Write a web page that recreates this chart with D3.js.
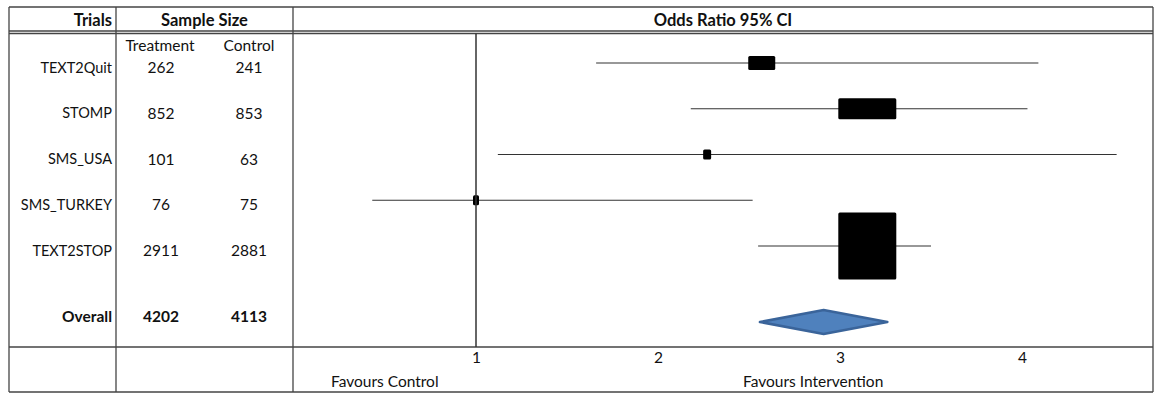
<!DOCTYPE html>
<html>
<head>
<meta charset="utf-8">
<script src="https://cdn.jsdelivr.net/npm/d3@7"></script>
<style>
  body { margin: 0; background: #fff; }
  svg text { font-family: Lato, "Noto Sans", sans-serif; fill: #111; }
</style>
</head>
<body>
<div id="chart"></div>
<script>
"use strict";

// == DATA ==
var trials = ["TEXT2Quit", "STOMP", "SMS_USA", "SMS_TURKEY", "TEXT2STOP"];
var treatmentN = [262, 852, 101, 76, 2911];
var controlN = [241, 853, 63, 75, 2881];
var oddsRatio = [2.57, 3.15, 2.27, 1.00, 3.15];
var ciLow = [1.66, 2.18, 1.12, 0.43, 2.55];
var ciHigh = [4.09, 4.03, 4.52, 2.52, 3.50];

var overallLabel = "Overall";
var overallN = [4202, 4113];
var overallOR = [2.56, 2.91, 3.26]; // low, point, high

var axisTicks = [1, 2, 3, 4];

// box sizes (px) -- style only, roughly the weights in the picture
var boxW = [27, 58, 8, 6, 58];
var boxH = [14, 21, 10, 10, 67];

(function () {
  // == LAYOUT ==
  var W = 1155, H = 397;
  var frameL = 9, frameR = 1153, frameT = 7, frameB = 392;
  var col1 = 116, col2 = 293;
  var headBot = 31, axisTop = 347;
  var border = "#444";

  var svg = d3.select("#chart").append("svg")
    .attr("width", W).attr("height", H);

  var x = d3.scaleLinear().domain([0, 4]).range([294, 1022]);
  var y = d3.scalePoint().domain(trials).range([65, 248]);
  var yOverall = 316, yDiamond = 322;

  // grid lines of the table
  var hLines = [frameT, headBot, headBot + 2.5, axisTop, frameB];
  svg.selectAll(".hl").data(hLines).enter().append("line")
    .attr("x1", frameL).attr("x2", frameR)
    .attr("y1", function (d) { return d; }).attr("y2", function (d) { return d; })
    .attr("stroke", border).attr("stroke-width", 1.3);

  var vLines = [frameL, col1, col2, frameR];
  svg.selectAll(".vl").data(vLines).enter().append("line")
    .attr("x1", function (d) { return d; }).attr("x2", function (d) { return d; })
    .attr("y1", frameT).attr("y2", frameB)
    .attr("stroke", border).attr("stroke-width", 1.3);

  function txt(t, xx, yy, anchor, bold, size) {
    return svg.append("text").text(t)
      .attr("x", xx).attr("y", yy)
      .attr("text-anchor", anchor || "middle")
      .attr("dominant-baseline", "central")
      .style("font-size", (size || 15.5) + "px")
      .style("font-weight", bold ? "bold" : "normal");
  }
  // headers
  txt("Trials", 112, 20, "end", true, 16.5);
  txt("Sample Size", (col1 + col2) / 2, 20, "middle", true, 16.5);
  txt("Odds Ratio 95% CI", (col2 + frameR) / 2, 20, "middle", true, 16.5);
  txt("Treatment", 160, 45);
  txt("Control", 249, 45);

  var colT = 161, colC = 249;

  // table rows
  var rows = svg.selectAll(".row").data(trials).enter().append("g").attr("class", "row");
  rows.append("text").text(function (d) { return d; })
    .attr("x", 112).attr("y", function (d) { return y(d) + 2; })
    .attr("text-anchor", "end").attr("dominant-baseline", "central")
    .style("font-size", "14.5px");
  rows.append("text").text(function (d, i) { return treatmentN[i]; })
    .attr("x", colT).attr("y", function (d) { return y(d) + 2; })
    .attr("text-anchor", "middle").attr("dominant-baseline", "central")
    .style("font-size", "15.5px");
  rows.append("text").text(function (d, i) { return controlN[i]; })
    .attr("x", colC).attr("y", function (d) { return y(d) + 2; })
    .attr("text-anchor", "middle").attr("dominant-baseline", "central")
    .style("font-size", "15.5px");

  txt(overallLabel, 112, yOverall, "end", true);
  txt(overallN[0], colT, yOverall, "middle", true);
  txt(overallN[1], colC, yOverall, "middle", true);

  // reference line at OR = 1
  svg.append("line")
    .attr("x1", x(1)).attr("x2", x(1))
    .attr("y1", headBot + 2.5).attr("y2", axisTop)
    .attr("stroke", "#333").attr("stroke-width", 1.5);

  // CI whiskers
  rows.append("line")
    .attr("x1", function (d, i) { return x(ciLow[i]); })
    .attr("x2", function (d, i) { return x(ciHigh[i]); })
    .attr("y1", function (d) { return y(d) - 2; })
    .attr("y2", function (d) { return y(d) - 2; })
    .attr("stroke", "#333").attr("stroke-width", 1.2);

  // point estimate boxes
  rows.append("rect")
    .attr("x", function (d, i) { return x(oddsRatio[i]) - boxW[i] / 2; })
    .attr("y", function (d, i) { return y(d) - 2 - boxH[i] / 2; })
    .attr("width", function (d, i) { return boxW[i]; })
    .attr("height", function (d, i) { return boxH[i]; })
    .attr("rx", 1.5)
    .attr("fill", "#000");

  // overall diamond
  var dh = 12;
  svg.append("path")
    .attr("d", "M" + x(overallOR[0]) + "," + yDiamond +
      "L" + x(overallOR[1]) + "," + (yDiamond - dh) +
      "L" + x(overallOR[2]) + "," + yDiamond +
      "L" + x(overallOR[1]) + "," + (yDiamond + dh) + "Z")
    .attr("fill", "#4F81BD").attr("stroke", "#3A649A")
    .attr("stroke-width", 2.5).attr("stroke-linejoin", "round");

  // axis
  var axis = svg.append("g")
    .attr("transform", "translate(0," + axisTop + ")")
    .call(d3.axisBottom(x).tickValues(axisTicks).tickFormat(d3.format("d"))
      .tickSize(0).tickPadding(5));
  axis.select(".domain").remove();
  axis.selectAll("text")
    .style("font-size", "15.5px")
    .style("font-family", "Lato, 'Noto Sans', sans-serif")
    .attr("fill", "#111");

  txt("Favours Control", 331, 381, "start");
  txt("Favours Intervention", 743, 381, "start");
})();
</script>
</body>
</html>
